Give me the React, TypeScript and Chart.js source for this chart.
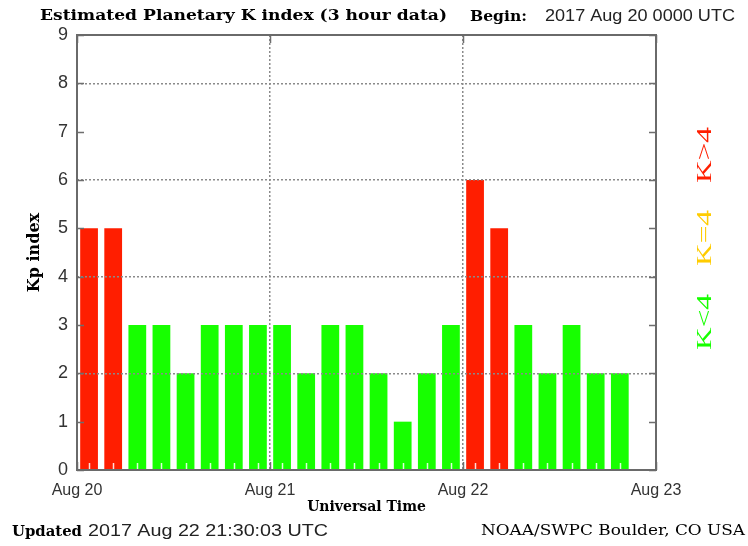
import React, { useEffect, useRef } from 'react';
import { Chart, registerables } from 'chart.js';

Chart.register(...registerables);

// 3-hour bin start times, hours since 2017 Aug 20 00:00 UTC
const binStartHours = [0, 3, 6, 9, 12, 15, 18, 21, 24, 27, 30, 33, 36, 39, 42, 45, 48, 51, 54, 57, 60, 63, 66];
// Estimated Kp per bin (last bin of Aug 22 not yet available)
const kpValues = [5, 5, 3, 3, 2, 3, 3, 3, 3, 2, 3, 3, 2, 1, 2, 3, 6, 5, 3, 2, 3, 2, 2];
const dayTickHours = [0, 24, 48, 72];
const dayLabels = ['Aug 20', 'Aug 21', 'Aug 22', 'Aug 23'];
const yTickValues = [0, 1, 2, 3, 4, 5, 6, 7, 8, 9];
const yGridValues = [2, 4, 6, 8];
const xGridValues = [24, 48];

const RED = '#ff1e00';
const YELLOW = '#ffcc00';
const GREEN = '#17ff00';

const colorFor = (v: number) => (v > 4 ? RED : v === 4 ? YELLOW : GREEN);

function fitText(
  ctx: CanvasRenderingContext2D,
  text: string,
  x: number,
  y: number,
  w: number,
  font: string,
  color: string,
  rotate = 0,
  align: CanvasTextAlign = 'left',
  baseline: CanvasTextBaseline = 'alphabetic'
) {
  ctx.save();
  ctx.font = font;
  const m = ctx.measureText(text).width;
  ctx.translate(x, y);
  if (rotate) ctx.rotate(rotate);
  ctx.scale(w / m, 1);
  ctx.fillStyle = color;
  ctx.textAlign = align;
  ctx.textBaseline = baseline;
  ctx.fillText(text, 0, 0);
  ctx.restore();
}

const overlayPlugin = {
  id: 'noaaOverlay',
  afterDraw(chart: any) {
    const ctx: CanvasRenderingContext2D = chart.ctx;
    const { left, right, top, bottom } = chart.chartArea;
    const xs = chart.scales.x;
    const ys = chart.scales.y;

    // white minor ticks at bar centres (bottom)
    ctx.save();
    ctx.strokeStyle = 'rgba(255,255,255,0.85)';
    ctx.lineWidth = 1.5;
    binStartHours.forEach((h) => {
      const px = Math.round(xs.getPixelForValue(h + 1.5)) + 0.5;
      ctx.beginPath();
      ctx.moveTo(px, bottom);
      ctx.lineTo(px, bottom - 7);
      ctx.stroke();
    });
    ctx.restore();

    // inner y ticks on both sides
    ctx.save();
    ctx.strokeStyle = '#6e6e6e';
    ctx.lineWidth = 1.5;
    yTickValues.forEach((v) => {
      const py = Math.round(ys.getPixelForValue(v)) + 0.5;
      ctx.beginPath();
      ctx.moveTo(left, py);
      ctx.lineTo(left + 7, py);
      ctx.moveTo(right, py);
      ctx.lineTo(right - 7, py);
      ctx.stroke();
    });
    // major x ticks top & bottom
    dayTickHours.forEach((h) => {
      const px = Math.round(xs.getPixelForValue(h)) + 0.5;
      ctx.beginPath();
      ctx.moveTo(px, top);
      ctx.lineTo(px, top + 8);
      ctx.moveTo(px, bottom);
      ctx.lineTo(px, bottom - 8);
      ctx.stroke();
    });
    // frame
    ctx.strokeStyle = '#6a6a6a';
    ctx.lineWidth = 2;
    ctx.strokeRect(left, top, right - left, bottom - top);
    ctx.restore();

    // header
    fitText(ctx, 'Estimated Planetary K index (3 hour data)', 40, 20, 407, 'bold 15px "DejaVu Serif"', '#000');
    fitText(ctx, 'Begin:', 470, 21, 57, 'bold 14px "DejaVu Serif"', '#000');
    fitText(ctx, '2017 Aug 20 0000 UTC', 545, 21, 190, '16px "Liberation Sans"', '#222');

    // footer
    fitText(ctx, 'Updated', 12, 536, 70, 'bold 14px "DejaVu Serif"', '#000');
    fitText(ctx, '2017 Aug 22 21:30:03 UTC', 88, 536, 240, '16px "Liberation Sans"', '#222');
    fitText(ctx, 'NOAA/SWPC Boulder, CO USA', 481, 535, 264, '14px "DejaVu Serif"', '#000');

    // colour key on the right
    fitText(ctx, 'K>4', 705, 155, 56, '22px "Liberation Serif"', RED, -Math.PI / 2, 'center', 'middle');
    fitText(ctx, 'K=4', 705, 238, 56, '22px "Liberation Serif"', YELLOW, -Math.PI / 2, 'center', 'middle');
    fitText(ctx, 'K<4', 705, 322, 56, '22px "Liberation Serif"', GREEN, -Math.PI / 2, 'center', 'middle');
  },
};

export default function App() {
  const ref = useRef<HTMLCanvasElement>(null);

  useEffect(() => {
    if (!ref.current) return;
    const chart = new Chart(ref.current, {
      type: 'bar',
      data: {
        datasets: [
          {
            data: kpValues.map((v, i) => ({ x: binStartHours[i] + 1.5, y: v })),
            backgroundColor: kpValues.map(colorFor),
            borderWidth: 0,
            barPercentage: 0.92,
            categoryPercentage: 0.8,
          },
        ],
      },
      options: {
        responsive: false,
        animation: false,
        events: [],
        layout: { padding: { left: 0, right: 92, top: 35, bottom: 0 } },
        plugins: { legend: { display: false }, tooltip: { enabled: false }, title: { display: false } },
        scales: {
          x: {
            type: 'linear',
            min: 0,
            max: 72,
            offset: false,
            afterBuildTicks: (scale: any) => {
              scale.ticks = dayTickHours.map((v) => ({ value: v }));
            },
            afterFit: (scale: any) => {
              scale.height = 76;
            },
            ticks: {
              autoSkip: false,
              maxRotation: 0,
              padding: 11,
              color: '#333',
              font: { family: '"Liberation Sans"', size: 16 },
              callback: (v: any) => dayLabels[dayTickHours.indexOf(Number(v))] ?? '',
            },
            grid: {
              z: 1,
              offset: false,
              drawTicks: false,
              lineWidth: 1.5,
              color: (c: any) => (c.tick && xGridValues.includes(c.tick.value) ? '#8a8a8a' : 'rgba(0,0,0,0)'),
            },
            border: { display: false, dash: [2, 2] },
            title: {
              display: true,
              text: 'Universal Time',
              color: '#000',
              font: { family: '"DejaVu Serif"', size: 14, weight: 'bold' },
              padding: { top: 0, bottom: 30 },
            },
          },
          y: {
            type: 'linear',
            min: 0,
            max: 9,
            afterBuildTicks: (scale: any) => {
              scale.ticks = yTickValues.map((v) => ({ value: v }));
            },
            afterFit: (scale: any) => {
              scale.width = 77;
            },
            ticks: {
              padding: 9,
              color: '#333',
              font: { family: '"Liberation Sans"', size: 18 },
            },
            grid: {
              z: 1,
              drawTicks: false,
              lineWidth: 1.5,
              color: (c: any) => (c.tick && yGridValues.includes(c.tick.value) ? '#8a8a8a' : 'rgba(0,0,0,0)'),
            },
            border: { display: false, dash: [2, 2] },
            title: {
              display: true,
              text: 'Kp index',
              color: '#000',
              font: { family: '"DejaVu Serif"', size: 16, weight: 'bold' },
              padding: { top: 25, bottom: 0 },
            },
          },
        },
      },
      plugins: [overlayPlugin],
    } as any);
    return () => chart.destroy();
  }, []);

  return (
    <div style={{ position: 'absolute', left: 0, top: 0, width: 748, height: 546, background: '#fff' }}>
      <canvas ref={ref} width={748} height={546} />
    </div>
  );
}
